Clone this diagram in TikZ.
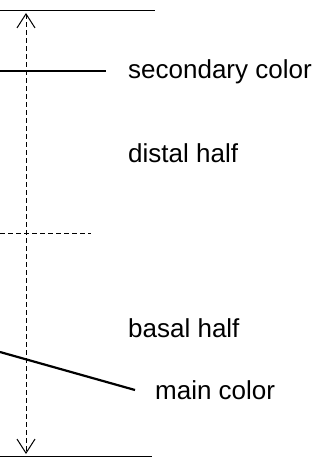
\documentclass[tikz,border=0pt]{standalone}
\usepackage{fontspec}
\setmainfont{Liberation Sans}
\usetikzlibrary{arrows.meta}
\begin{document}
\begin{tikzpicture}[x=1pt,y=-1pt,
  thinline/.style={line width=1pt},
  thickline/.style={line width=2.2pt},
  dashline/.style={line width=1pt,dash pattern=on 5pt off 3pt},
  lbl/.style={anchor=west,inner sep=0pt,font=\fontsize{26}{30}\selectfont}]
\useasboundingbox (0,0) rectangle (326,460);
\coordinate (tl) at (0,11);
\coordinate (tr) at (155,11);
\coordinate (bl) at (0,456);
\coordinate (br) at (152,456);
\draw[thinline] (tl) -- (tr);
\draw[thinline] (bl) -- (br);
\coordinate (atop) at (26,13);
\coordinate (abot) at (26,454);
\draw[dashline,{Straight Barb[length=14pt,width=18pt,line width=1pt]}-{Straight Barb[length=14pt,width=18pt,line width=1pt]}] (atop) -- (abot);
\coordinate (mid1) at (0,233);
\coordinate (mid2) at (91,233);
\draw[dashline] (mid1) -- (mid2);
\coordinate (s1) at (0,71);
\coordinate (s2) at (106,71);
\draw[thickline] (s1) -- (s2);
\coordinate (m1) at (0,352);
\coordinate (m2) at (135,390);
\draw[thickline] (m1) -- (m2);
\node[lbl] (sec) at (128,72) {secondary color};
\node[lbl] (dist) at (128,153) {distal half};
\node[lbl] (bas) at (128,328) {basal half};
\node[lbl] (mainc) at (155,390) {main color};
\end{tikzpicture}
\end{document}
